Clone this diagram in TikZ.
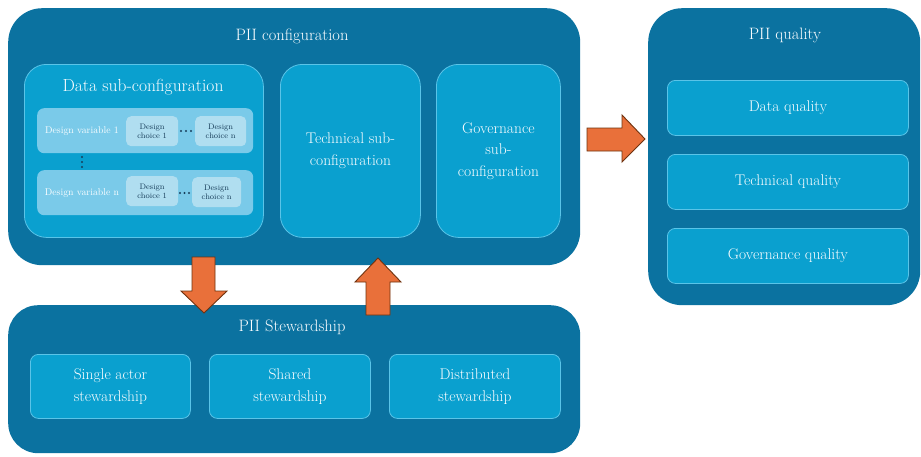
\documentclass[tikz,border=0pt]{standalone}
\usepackage{fontspec}
\definecolor{deepblue}{RGB}{11,114,160}
\definecolor{midblue}{RGB}{10,160,207}
\definecolor{edgeblue}{RGB}{90,196,232}
\definecolor{rowblue}{RGB}{122,202,233}
\definecolor{choiceblue}{RGB}{176,222,240}
\definecolor{inkblue}{RGB}{24,62,90}
\definecolor{titlewhite}{RGB}{250,253,255}
\definecolor{arroworange}{RGB}{233,112,58}
\definecolor{arrowedge}{RGB}{110,50,15}
\tikzset{
  panel/.style={fill=deepblue, draw=none, rounded corners=34pt, inner sep=0pt, anchor=north west},
  subpanel/.style={fill=midblue, draw=edgeblue, line width=0.8pt, rounded corners=22pt, inner sep=0pt, anchor=north west},
  itembox/.style={fill=midblue, draw=edgeblue, line width=0.8pt, rounded corners=8pt, inner sep=0pt, anchor=north west},
  rowbox/.style={fill=rowblue, draw=none, rounded corners=7pt, inner sep=0pt, anchor=north west},
  choicebox/.style={fill=choiceblue, draw=none, rounded corners=5pt, inner sep=0pt, anchor=north west,
    text=inkblue, font=\fontsize{8}{9.5}\selectfont, align=center},
  heading/.style={text=titlewhite, font=\fontsize{16.5}{18}\selectfont, inner sep=0pt},
  boxtext/.style={text=titlewhite, font=\fontsize{15.5}{21.5}\selectfont, align=center, inner sep=0pt},
  rowtext/.style={text=titlewhite, font=\fontsize{9.8}{11}\selectfont, inner sep=0pt},
  dotmark/.style={fill=inkblue, draw=none, circle, inner sep=0pt, minimum size=2.2pt},
  blockarrow/.style={fill=arroworange, draw=arrowedge, line width=0.9pt, line join=miter}
}
\begin{document}
\begin{tikzpicture}[x=1pt,y=-1pt]
\useasboundingbox (0,0) rectangle (921,456);

% PII configuration
\node[panel, minimum width=572pt, minimum height=257pt] (config) at (8,8) {};
\node[heading] (configtitle) at (292,36) {PII configuration};

% data sub-configuration
\node[subpanel, minimum width=239pt, minimum height=173pt] (datasub) at (24,64) {};
\node[heading, font=\fontsize{17.5}{19}\selectfont] (datatitle) at (143,87) {Data sub-configuration};

\node[rowbox, minimum width=216pt, minimum height=45pt] (row1) at (37,108) {};
\node[rowtext] (var1) at (82,131) {Design variable 1};
\node[choicebox, minimum width=52pt, minimum height=30pt] (c11) at (126,116) {Design\\choice 1};
\node[choicebox, minimum width=51pt, minimum height=30pt] (c1n) at (195,116) {Design\\choice n};
\foreach \i [count=\k] in {181,186,191} \node[dotmark] (dotsa\k) at (\i,131) {};

\foreach \i [count=\k] in {157,162,167} \node[dotmark] (vdot\k) at (82,\i) {};

\node[rowbox, minimum width=216pt, minimum height=45pt] (rown) at (37,170) {};
\node[rowtext] (varn) at (82,193) {Design variable n};
\node[choicebox, minimum width=52pt, minimum height=30pt] (cn1) at (126,176) {Design\\choice 1};
\node[choicebox, minimum width=49pt, minimum height=30pt] (cnn) at (192,177) {Design\\choice n};
\foreach \i [count=\k] in {180,184.5,189} \node[dotmark] (dotsb\k) at (\i,193) {};

% technical and governance sub-configurations
\node[subpanel, minimum width=140pt, minimum height=173pt] (techsub) at (280,64) {};
\node[boxtext] (techtext) at (techsub.center) {Technical sub-\\configuration};
\node[subpanel, minimum width=124pt, minimum height=173pt] (govsub) at (436,64) {};
\node[boxtext] (govtext) at (govsub.center) {Governance\\sub-\\configuration};

% PII quality
\node[panel, minimum width=272pt, minimum height=297pt] (quality) at (648,8) {};
\node[heading] (qualitytitle) at (785,35) {PII quality};
\node[itembox, minimum width=241pt, minimum height=55pt] (dq) at (667,80) {};
\node[boxtext] (dqtext) at (dq.center) {Data quality};
\node[itembox, minimum width=241pt, minimum height=55pt] (tq) at (667,154) {};
\node[boxtext] (tqtext) at (tq.center) {Technical quality};
\node[itembox, minimum width=241pt, minimum height=55pt] (gq) at (667,228) {};
\node[boxtext] (gqtext) at (gq.center) {Governance quality};

% PII stewardship
\node[panel, rounded corners=30pt, minimum width=572pt, minimum height=148pt] (steward) at (8,305) {};
\node[heading] (stewardtitle) at (292,327) {PII Stewardship};
\node[itembox, minimum width=160pt, minimum height=64pt] (single) at (30,354) {};
\node[boxtext] (singletext) at (single.center) {Single actor\\stewardship};
\node[itembox, minimum width=161pt, minimum height=64pt] (shared) at (209,354) {};
\node[boxtext] (sharedtext) at (shared.center) {Shared\\stewardship};
\node[itembox, minimum width=171pt, minimum height=64pt] (distrib) at (389,354) {};
\node[boxtext] (distribtext) at (distrib.center) {Distributed\\stewardship};

% block arrows
\draw[blockarrow] (192,257) -- (215,257) -- (215,291) -- (227,291) -- (204,313)
  -- (181,291) -- (192,291) -- cycle;
\draw[blockarrow] (366,315) -- (390,315) -- (390,282) -- (401,282) -- (378,258)
  -- (355,282) -- (366,282) -- cycle;
\draw[blockarrow] (587,128) -- (622,128) -- (622,115) -- (645,139) -- (622,162)
  -- (622,151) -- (587,151) -- cycle;
\end{tikzpicture}
\end{document}
